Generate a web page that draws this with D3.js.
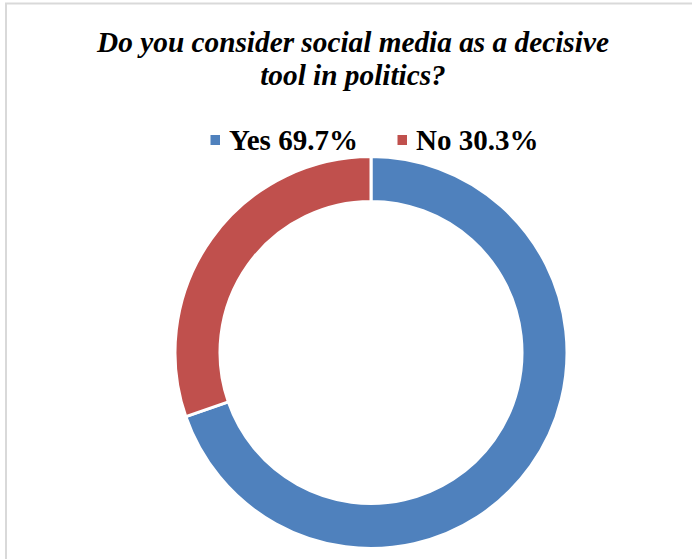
<!DOCTYPE html>
<html>
<head>
<meta charset="utf-8">
<script src="https://cdn.jsdelivr.net/npm/d3@7"></script>
<style>
  html, body { margin: 0; padding: 0; background: #fff; }
  svg { display: block; }
</style>
</head>
<body>
<svg id="chart" width="692" height="559"></svg>
<script>
const categories = ["Yes", "No"];
const values = [69.7, 30.3];
const legendLabels = ["Yes 69.7%", "No 30.3%"];
const colors = ["#4F81BD", "#C0504D"];
const titleLines = ["Do you consider social media as a decisive", "tool in politics?"];

const svg = d3.select("#chart");

// chart area border
svg.append("rect")
  .attr("x", 6).attr("y", 3.5)
  .attr("width", 700).attr("height", 570)
  .attr("fill", "#fff")
  .attr("stroke", "#d9d9d9").attr("stroke-width", 2);

// title
svg.append("g").selectAll("text")
  .data(titleLines)
  .join("text")
  .attr("x", 353)
  .attr("y", (d, i) => 51.5 + i * 33)
  .attr("text-anchor", "middle")
  .attr("font-family", "'Liberation Serif', 'Times New Roman', serif")
  .attr("font-style", "italic")
  .attr("font-weight", "bold")
  .attr("font-size", 29.3)
  .attr("fill", "#000")
  .text(d => d);

// legend
const legendX = [210, 397];
const lg = svg.append("g").selectAll("g")
  .data(categories)
  .join("g")
  .attr("transform", (d, i) => `translate(${legendX[i]},0)`);
lg.append("rect")
  .attr("x", 0.5).attr("y", 135)
  .attr("width", 9.5).attr("height", 10)
  .attr("fill", (d, i) => colors[i]);
lg.append("text")
  .attr("x", 19).attr("y", 149.5)
  .attr("font-family", "'Liberation Serif', 'Times New Roman', serif")
  .attr("font-weight", "bold")
  .attr("font-size", 29)
  .attr("fill", "#000")
  .text((d, i) => legendLabels[i]);

// donut
const cx = 371, cy = 352.5, rOuter = 196, rInner = 151;
const pie = d3.pie().sort(null).value(d => d)(values);
const arc = d3.arc().innerRadius(rInner).outerRadius(rOuter);
svg.append("g")
  .attr("transform", `translate(${cx},${cy})`)
  .selectAll("path")
  .data(pie)
  .join("path")
  .attr("d", arc)
  .attr("fill", (d, i) => colors[i])
  .attr("stroke", "#fff")
  .attr("stroke-width", 3);
</script>
</body>
</html>
